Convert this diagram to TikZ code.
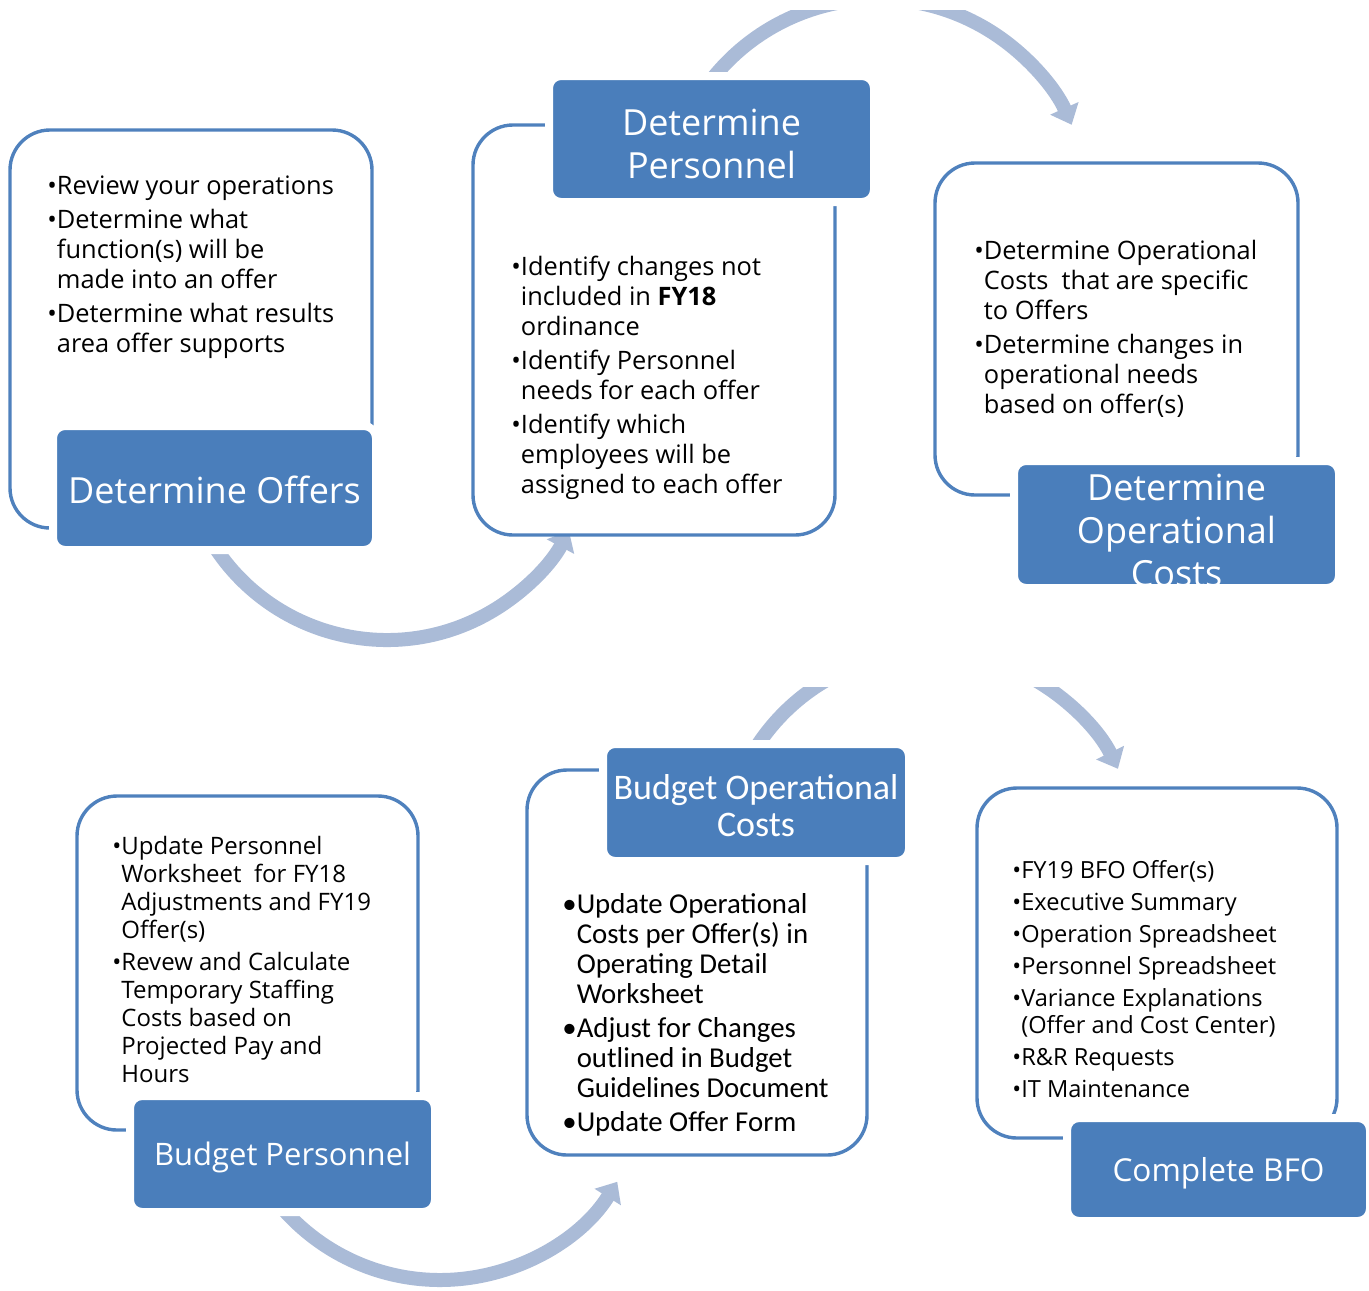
\documentclass[tikz,border=0pt]{standalone}
\usepackage{fontspec}
\setmainfont{Open Sans}
\newfontfamily\calibfont{Carlito}
\usetikzlibrary{arrows.meta}

\definecolor{boxblue}{RGB}{74,126,187}
\definecolor{lineblue}{RGB}{79,129,189}
\definecolor{arcblue}{RGB}{170,187,215}

\newcommand{\blt}{\textbullet}
\newcommand{\cnt}{\hphantom{\textbullet}}

\begin{document}
\begin{tikzpicture}[x=0.5pt,y=-0.5pt]
\tikzstyle{panel} = [draw=lineblue,line width=1.7pt,fill=white,rounded corners=20pt,inner sep=0pt]
\tikzstyle{titlebox} = [draw=white,line width=4pt,fill=boxblue,rounded corners=6pt,inner sep=0pt]
\tikzstyle{titletext} = [text=white,align=center,inner sep=0pt,font=\fontsize{18}{21.5}\selectfont]
\tikzstyle{notes} = [anchor=north west,align=left,inner sep=0pt,font=\fontsize{12.7}{15}\selectfont]
\tikzstyle{cyclearrow} = [draw=arcblue,line width=7pt,-{Triangle[width=15pt,length=9pt]}]

\useasboundingbox (0,0) rectangle (1369,1290);

% arrows, top row
\begin{scope}
\clip (0,10) rectangle (1369,670);
\coordinate (c1) at (387,434);
\coordinate (c2) at (878,211);
\draw[cyclearrow] ([shift={(150:206)}]c1) arc (150:28:206);
\draw[cyclearrow] ([shift={(-145:212)}]c2) arc (-145:-24:212);
\end{scope}

% arrows, bottom row
\begin{scope}
\clip (0,687) rectangle (1369,1290);
\coordinate (c3) at (440,1071);
\coordinate (c4) at (931,860);
\draw[cyclearrow] ([shift={(145:209)}]c3) arc (145:32:209);
\draw[cyclearrow] ([shift={(-150:208)}]c4) arc (-150:-26:208);
\end{scope}

% panels
\node[panel,minimum width=181pt,minimum height=199pt] (P1) at (191,329) {};
\node[panel,minimum width=181pt,minimum height=205pt] (P2) at (654,330) {};
\node[panel,minimum width=181.5pt,minimum height=166pt] (P3) at (1116.5,329) {};
\node[panel,minimum width=170.5pt,minimum height=167pt] (P4) at (247.5,963) {};
\node[panel,minimum width=170pt,minimum height=192.5pt] (P5) at (697,962.5) {};
\node[panel,minimum width=180pt,minimum height=175pt] (P6) at (1157,963) {};

% titles
\node[titlebox,minimum width=161.5pt,minimum height=62pt] (L1) at (214.5,488) {};
\node[titletext] at (214.5,490) {Determine Offers};
\node[titlebox,minimum width=162.5pt,minimum height=63pt] (L2) at (711.5,139) {};
\node[titletext] at (711.5,144) {Determine\\Personnel};
\node[titlebox,minimum width=162.5pt,minimum height=63.5pt] (L3) at (1176.5,524.5) {};
\begin{scope}
\clip[rounded corners=4pt] ([shift={(2pt,-2pt)}]L3.south west) rectangle ([shift={(-2pt,2pt)}]L3.north east);
\node[titletext] at (1176.5,530) {Determine\\Operational\\Costs};
\end{scope}
\node[titlebox,minimum width=152.5pt,minimum height=58pt] (L4) at (282.5,1154) {};
\node[titletext,font=\fontsize{15.5}{19}\selectfont] at (282.5,1157) {Budget Personnel};
\node[titlebox,minimum width=153pt,minimum height=58.5pt] (L5) at (756,802.5) {};
\node[titletext,font=\calibfont\fontsize{18}{18.5}\selectfont] at (756,806) {Budget Operational\\Costs};
\node[titlebox,minimum width=151.5pt,minimum height=51.5pt] (L6) at (1218.5,1169.5) {};
\node[titletext,font=\fontsize{15.8}{19}\selectfont] at (1218.5,1173) {Complete BFO};

% notes
\node[notes] (N1) at (47,175) {\blt Review your operations\\[2pt]
\blt Determine what\\ \cnt function(s) will be\\ \cnt made into an offer\\[2pt]
\blt Determine what results\\ \cnt area offer supports};
\node[notes] (N2) at (511,256) {\blt Identify changes not\\ \cnt included in \textbf{FY18}\\ \cnt ordinance\\[2pt]
\blt Identify Personnel\\ \cnt needs for each offer\\[2pt]
\blt Identify which\\ \cnt employees will be\\ \cnt assigned to each offer};
\node[notes] (N3) at (974,240) {\blt Determine Operational\\ \cnt Costs\ \ that are specific\\ \cnt to Offers\\[2pt]
\blt Determine changes in\\ \cnt operational needs\\ \cnt based on offer(s)};
\node[notes,font=\fontsize{12}{14}\selectfont] (N4) at (112,836) {\blt Update Personnel\\ \cnt Worksheet\ \ for FY18\\ \cnt Adjustments and FY19\\ \cnt Offer(s)\\[2pt]
\blt Revew and Calculate\\ \cnt Temporary Staffing\\ \cnt Costs based on\\ \cnt Projected Pay and\\ \cnt Hours};
\node[notes,font=\calibfont\fontsize{14.4}{15}\selectfont] (N5) at (562,893) {\blt Update Operational\\ \cnt Costs per Offer(s) in\\ \cnt Operating Detail\\ \cnt Worksheet\\[2pt]
\blt Adjust for Changes\\ \cnt outlined in Budget\\ \cnt Guidelines Document\\[2pt]
\blt Update Offer Form};
\node[notes,font=\fontsize{11.8}{13.5}\selectfont] (N6) at (1012,860) {\blt FY19 BFO Offer(s)\\[2.5pt]
\blt Executive Summary\\[2.5pt]
\blt Operation Spreadsheet\\[2.5pt]
\blt Personnel Spreadsheet\\[2.5pt]
\blt Variance Explanations\\ \cnt (Offer and Cost Center)\\[2.5pt]
\blt R\&R Requests\\[2.5pt]
\blt IT Maintenance};

\end{tikzpicture}
\end{document}
